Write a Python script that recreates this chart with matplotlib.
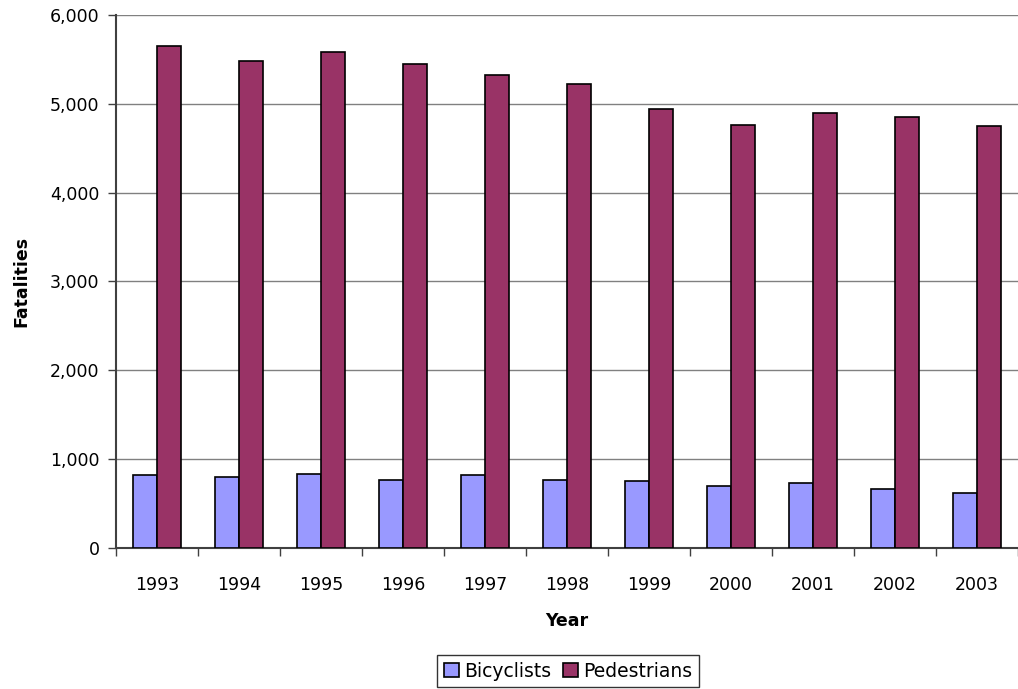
import matplotlib.pyplot as plt
import numpy as np
from matplotlib.ticker import FuncFormatter

years = ['1993', '1994', '1995', '1996', '1997', '1998', '1999', '2000', '2001', '2002', '2003']
bicyclists = [816, 802, 833, 765, 814, 760, 754, 693, 732, 665, 622]
pedestrians = [5649, 5489, 5584, 5449, 5321, 5228, 4939, 4763, 4901, 4851, 4749]

plt.rcParams['font.family'] = ['DejaVu Sans']

fig = plt.figure(figsize=(10.18, 6.89), dpi=100)
ax = fig.add_axes([0.114, 0.205, 0.886, 0.773])

x = np.arange(len(years))
w = 0.29
ax.bar(x - w / 2, bicyclists, width=w, color='#9999FF', edgecolor='black',
       linewidth=1.2, label='Bicyclists', zorder=3)
ax.bar(x + w / 2, pedestrians, width=w, color='#993366', edgecolor='black',
       linewidth=1.2, label='Pedestrians', zorder=3)

ax.set_xlim(-0.5, len(years) - 0.5)
ax.set_ylim(0, 6000)
ax.set_yticks(range(0, 6001, 1000))
ax.yaxis.set_major_formatter(FuncFormatter(lambda v, p: f'{int(v):,}'))
ax.grid(axis='y', color='#808080', linewidth=1, zorder=0)

ax.set_xticks(x)
ax.set_xticklabels(years)
ax.set_xticks(np.arange(-0.5, len(years), 1.0), minor=True)
ax.tick_params(axis='x', which='major', length=0, pad=20, labelsize=12.5)
ax.tick_params(axis='x', which='minor', length=6, width=1, color='#404040')
ax.tick_params(axis='y', length=6, width=1, color='#404040', labelsize=12.5, pad=6)

for side in ['top', 'right']:
    ax.spines[side].set_visible(False)
for side in ['left', 'bottom']:
    ax.spines[side].set_color('#404040')
    ax.spines[side].set_linewidth(1.5)

ax.set_xlabel('Year', fontsize=12.5, fontweight='bold', labelpad=13)
ax.set_ylabel('Fatalities', fontsize=12.5, fontweight='bold', labelpad=14)

leg = fig.legend(loc='lower center', bbox_to_anchor=(0.558, 0.0), ncol=2,
                 fontsize=13.5, frameon=True, fancybox=False, edgecolor='black',
                 handlelength=0.8, handleheight=0.8, handletextpad=0.3,
                 columnspacing=0.6, borderpad=0.35, borderaxespad=0.1)
leg.get_frame().set_linewidth(1)

fig.savefig('out.png', dpi=100)
